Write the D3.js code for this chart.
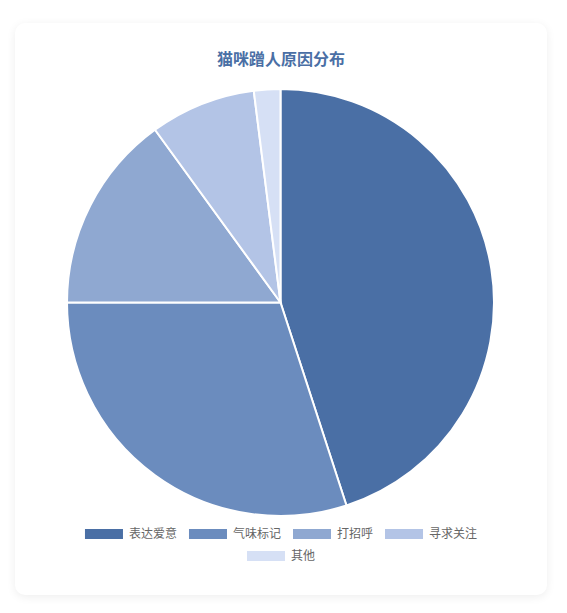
<!DOCTYPE html>
<html>
<head>
<meta charset="utf-8">
<script src="https://cdn.jsdelivr.net/npm/d3@7"></script>
<style>
  html, body { margin: 0; padding: 0; background: #fff; }
  body { font-family: "Noto Sans CJK SC", "Noto Sans", sans-serif; }
  #card {
    position: absolute;
    left: 15px; top: 23px;
    width: 532px; height: 572px;
    background: #fff;
    border-radius: 10px;
    box-shadow: 0 2px 10px rgba(0,0,0,0.07);
  }
</style>
</head>
<body>
<div id="card"></div>
<script>
// data
const categories = ["表达爱意", "气味标记", "打招呼", "寻求关注", "其他"];
const values = [45, 30, 15, 8, 2];
const colors = ["#4a6fa5", "#6b8cbe", "#8fa8d1", "#b3c4e6", "#d6e0f5"];
const title = "猫咪蹭人原因分布";

const width = 532, height = 572;
const cx = 265.5, cy = 279.5, radius = 213.5;

const svg = d3.select("#card")
  .append("svg")
  .attr("width", width)
  .attr("height", height);

svg.append("text")
  .attr("x", width / 2)
  .attr("y", 42)
  .attr("text-anchor", "middle")
  .attr("font-size", "16px")
  .attr("font-weight", "bold")
  .attr("fill", "#4a6fa5")
  .text(title);

const pie = d3.pie().sort(null).value((d) => d);
const arc = d3.arc().innerRadius(0).outerRadius(radius);

const g = svg.append("g").attr("transform", `translate(${cx}, ${cy})`);

g.selectAll("path")
  .data(pie(values))
  .join("path")
  .attr("d", arc)
  .attr("fill", (d, i) => colors[i])
  .attr("stroke", "#fff")
  .attr("stroke-width", 2);

// legend: 4 items on row 1, 1 centered on row 2
const rows = [[0, 1, 2, 3], [4]];
const boxW = 38, boxH = 10, gap = 8, itemGap = 12;
const legend = svg.append("g").attr("font-size", "12px").attr("fill", "#666");

// measure label widths
const measure = legend.append("text").attr("visibility", "hidden");
const labelW = categories.map((c) => {
  measure.text(c);
  return measure.node().getComputedTextLength();
});
measure.remove();

rows.forEach((row, r) => {
  const itemW = row.map((i) => boxW + 6 + labelW[i]);
  const total = d3.sum(itemW) + itemGap * (row.length - 1);
  let x = (width - total) / 2;
  const y = 506 + r * 22;
  row.forEach((i, k) => {
    legend.append("rect")
      .attr("x", x).attr("y", y)
      .attr("width", boxW).attr("height", boxH)
      .attr("fill", colors[i]);
    legend.append("text")
      .attr("x", x + boxW + 6)
      .attr("y", y + boxH / 2)
      .attr("dy", "0.35em")
      .text(categories[i]);
    x += itemW[k] + itemGap;
  });
});
</script>
</body>
</html>
